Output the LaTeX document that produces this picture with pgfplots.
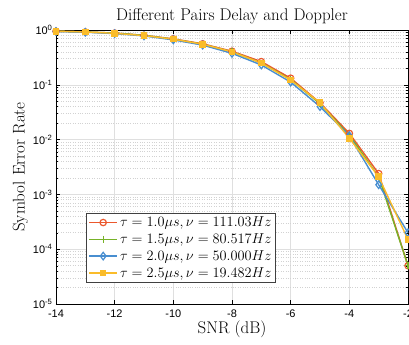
\documentclass[border=0pt]{standalone}
\usepackage{pgfplots}
\pgfplotsset{compat=1.18}
\usepackage{fontspec}
\newfontfamily\tickfont{Liberation Sans}
\definecolor{cR}{RGB}{235,88,45}
\definecolor{cG}{RGB}{119,178,40}
\definecolor{cB}{RGB}{72,142,208}
\definecolor{cY}{RGB}{250,188,42}
\begin{document}
\begin{tikzpicture}
\begin{axis}[
  scale only axis,
  width=352bp, height=274bp,
  ymode=log,
  xmin=-14, xmax=-2, ymin=1e-5, ymax=1,
  xtick={-14,-12,-10,-8,-6,-4,-2},
  xticklabels={-14,-12,-10,-8,-6,-4,-2},
  ytick={1e-5,1e-4,1e-3,1e-2,1e-1,1},
  yticklabels={10\textsuperscript{-5},10\textsuperscript{-4},10\textsuperscript{-3},10\textsuperscript{-2},10\textsuperscript{-1},10\textsuperscript{0}},
  ticklabel style={font=\tickfont\fontsize{11}{12}\selectfont},
  /pgf/number format/assume math mode=true,
  tick align=inside,
  tick style={black, thin},
  major tick length=4pt, minor tick length=2pt,
  grid=both,
  major grid style={gray!25, line width=0.6pt},
  minor grid style={gray!35, dotted, line width=0.6pt},
  minor x tick num=0,
  xminorgrids=false,
  axis line style={black, line width=1pt},
  title={Different Pairs Delay and Doppler},
  title style={font=\fontsize{17}{19}\selectfont, yshift=-3pt},
  xlabel={SNR (dB)},
  ylabel={Symbol Error Rate},
  label style={font=\fontsize{17}{19}\selectfont},
  xlabel style={yshift=3pt},
  ylabel style={yshift=-2pt},
  xticklabel style={yshift=-2pt},
  legend style={at={(rel axis cs:0.085,0.077)}, anchor=south west, draw=black!75, line width=0.8pt, font=\fontsize{13.5}{15}\selectfont, row sep=1.5pt, inner sep=2pt},
  legend image code/.code={\draw[line width=1.4pt,mark repeat=2,mark phase=2] plot coordinates {(0cm,0cm) (0.5cm,0cm) (1.0cm,0cm)};},
  legend cell align=left,
  every axis plot/.append style={line width=1.4pt},
  clip=false,
]
\addplot[cR, mark=o, mark size=3.2pt, mark options={line width=1.2pt}] coordinates {
(-14,0.95) (-13,0.92) (-12,0.88) (-11,0.80) (-10,0.69) (-9,0.56) (-8,0.41) (-7,0.265) (-6,0.132) (-5,0.047) (-4,0.0130) (-3,0.0024) (-2,0.00005)};
\addlegendentry{$\tau=1.0\mu s, \nu=111.03Hz$}
\addplot[cG, mark=+, mark size=3.5pt, mark options={line width=1.2pt}] coordinates {
(-14,0.95) (-13,0.92) (-12,0.88) (-11,0.80) (-10,0.68) (-9,0.55) (-8,0.40) (-7,0.25) (-6,0.125) (-5,0.045) (-4,0.0120) (-3,0.0021) (-2,0.00005)};
\addlegendentry{$\tau=1.5\mu s, \nu=80.517Hz$}
\addplot[cB, mark=diamond, mark size=3.8pt, mark options={line width=1.2pt}] coordinates {
(-14,0.94) (-13,0.91) (-12,0.86) (-11,0.78) (-10,0.66) (-9,0.53) (-8,0.375) (-7,0.23) (-6,0.112) (-5,0.040) (-4,0.0118) (-3,0.0015) (-2,0.00020)};
\addlegendentry{$\tau=2.0\mu s, \nu=50.000Hz$}
\addplot[cY, mark=square*, mark size=2.6pt] coordinates {
(-14,0.95) (-13,0.92) (-12,0.87) (-11,0.79) (-10,0.68) (-9,0.55) (-8,0.40) (-7,0.25) (-6,0.122) (-5,0.047) (-4,0.0106) (-3,0.0021) (-2,0.00015)};
\addlegendentry{$\tau=2.5\mu s, \nu=19.482Hz$}
\end{axis}
\pgfresetboundingbox
\path[use as bounding box] ([xshift=-56bp,yshift=-41bp]current axis.south west) rectangle ([xshift=1bp,yshift=30bp]current axis.north east);
\end{tikzpicture}
\end{document}
